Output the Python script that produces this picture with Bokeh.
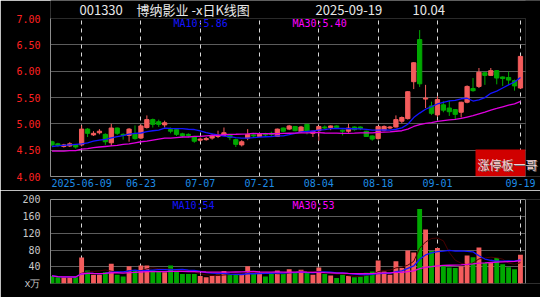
import pandas as pd
from bokeh.plotting import figure
from bokeh.layouts import column
from bokeh.models import (ColumnDataSource, Range1d, FixedTicker, Label,
                          BoxAnnotation, Span, PrintfTickFormatter)
from bokeh.embed import file_html
from bokeh.resources import INLINE

# ---------------- data ----------------
holidays = ["2025-06-02"]
dates = [d.strftime("%Y-%m-%d") for d in pd.bdate_range("2025-05-30", "2025-09-19")
         if d.strftime("%Y-%m-%d") not in holidays]

opens = [4.66, 4.62, 4.57, 4.58, 4.60, 4.60, 4.90, 4.79, 4.83, 4.80,
         4.64, 4.92, 4.80, 4.78, 4.81, 4.73, 4.93, 5.08, 5.04, 4.98,
         4.89, 4.89, 4.81, 4.80, 4.75, 4.69, 4.70, 4.73, 4.76, 4.78,
         4.79, 4.70, 4.60, 4.73, 4.79, 4.76, 4.80, 4.82, 4.76, 4.92,
         4.90, 4.95, 4.85, 4.99, 4.82, 4.87, 4.94, 4.93, 4.96, 4.88,
         4.86, 4.94, 4.94, 4.86, 4.77, 4.72, 4.88, 4.92, 4.94, 5.05,
         5.10, 5.80, 6.60, 5.47, 5.34, 5.17, 5.36, 5.30, 5.27, 5.22,
         5.41, 5.67, 5.71, 5.97, 5.92, 6.01, 5.89, 5.88, 5.82, 5.68]
highs = [4.68, 4.64, 4.62, 4.65, 4.61, 4.97, 4.92, 4.86, 4.90, 4.82,
         5.00, 4.93, 4.82, 4.92, 4.97, 4.99, 5.16, 5.10, 5.08, 5.06,
         4.93, 4.90, 4.83, 4.82, 4.77, 4.74, 4.75, 4.80, 4.87, 4.93,
         4.80, 4.72, 4.69, 4.90, 4.80, 4.81, 4.83, 4.85, 4.91, 4.93,
         4.98, 4.96, 4.96, 5.00, 4.87, 4.96, 4.97, 4.97, 4.97, 4.89,
         5.00, 4.95, 4.95, 4.87, 4.78, 4.96, 4.97, 4.96, 5.16, 5.14,
         5.62, 6.17, 6.78, 5.74, 5.42, 5.53, 5.43, 5.44, 5.28, 5.42,
         5.73, 5.87, 6.06, 5.98, 6.06, 6.02, 5.90, 5.99, 5.84, 6.29]
lows = [4.57, 4.56, 4.55, 4.56, 4.53, 4.57, 4.75, 4.77, 4.80, 4.60,
        4.58, 4.79, 4.70, 4.66, 4.70, 4.71, 4.91, 4.93, 4.94, 4.93,
        4.82, 4.77, 4.74, 4.74, 4.64, 4.66, 4.68, 4.70, 4.73, 4.77,
        4.69, 4.56, 4.57, 4.69, 4.74, 4.75, 4.76, 4.77, 4.75, 4.84,
        4.88, 4.86, 4.83, 4.80, 4.75, 4.68, 4.90, 4.88, 4.92, 4.78,
        4.83, 4.87, 4.88, 4.75, 4.68, 4.70, 4.86, 4.90, 4.93, 5.01,
        5.08, 5.66, 5.70, 5.30, 5.17, 5.13, 5.22, 5.15, 5.09, 5.12,
        5.39, 5.61, 5.68, 5.74, 5.91, 5.75, 5.72, 5.74, 5.63, 5.66]
closes = [4.60, 4.59, 4.60, 4.62, 4.56, 4.90, 4.82, 4.82, 4.86, 4.66,
          4.92, 4.82, 4.78, 4.90, 4.72, 4.96, 5.08, 4.99, 4.99, 5.02,
          4.86, 4.80, 4.77, 4.78, 4.67, 4.71, 4.72, 4.78, 4.77, 4.83,
          4.74, 4.61, 4.66, 4.80, 4.77, 4.80, 4.79, 4.80, 4.90, 4.86,
          4.96, 4.87, 4.94, 4.86, 4.86, 4.95, 4.92, 4.96, 4.93, 4.86,
          4.92, 4.89, 4.91, 4.76, 4.71, 4.95, 4.95, 4.94, 5.08, 5.12,
          5.61, 6.16, 5.76, 5.49, 5.20, 5.46, 5.26, 5.23, 5.18, 5.41,
          5.71, 5.63, 5.98, 5.92, 6.01, 5.87, 5.86, 5.83, 5.72, 6.28]
volumes = [18, 15, 15, 15, 15, 62, 31, 21, 21, 27,
           47, 21, 17, 41, 31, 43, 43, 31, 29, 27,
           43, 29, 23, 23, 23, 18, 15, 18, 21, 30,
           23, 23, 21, 41, 23, 23, 17, 23, 31, 23,
           34, 26, 33, 26, 21, 38, 23, 19, 13, 21,
           18, 15, 17, 26, 29, 55, 29, 21, 53, 37,
           79, 74, 178, 129, 78, 85, 41, 38, 37, 41,
           67, 63, 86, 49, 49, 61, 46, 39, 34, 69]

ma10_head = [4.57, 4.58, 4.59, 4.60, 4.61, 4.62, 4.64, 4.67, 4.69]
ma30_head = [4.48, 4.48, 4.48, 4.49, 4.49, 4.52, 4.53, 4.55, 4.56, 4.57,
             4.58, 4.59, 4.61, 4.62, 4.64, 4.66, 4.67, 4.69, 4.71, 4.73,
             4.73, 4.74, 4.75, 4.75, 4.76, 4.76, 4.77, 4.78, 4.78]

tick_dates = ["2025-06-09", "2025-06-23", "2025-07-07", "2025-07-21",
              "2025-08-04", "2025-08-18", "2025-09-01", "2025-09-19"]
tick_labels = ["2025-06-09", "06-23", "07-07", "07-21", "08-04", "08-18", "09-01", "09-19"]
price_ticks = [4.0, 4.5, 5.0, 5.5, 6.0, 6.5, 7.0]
vol_ticks = [0, 40, 80, 120, 160, 200]
vol_zero_label = "x万"

title_code = "001330"
title_name = "博纳影业 -x日K线图"
title_date = "2025-09-19"
title_value = "10.04"
price_ma_texts = ["MA10:5.86", "MA30:5.40"]
vol_ma_texts = ["MA10:54", "MA30:53"]
stamp_text = "涨停板一哥"

# ---------------- derived ----------------
UP, DOWN = "#f45c5c", "#00a800"
n = len(closes)
xs = list(range(n))
cs = pd.Series(closes)
ma10 = cs.rolling(10).mean()
ma10.iloc[:9] = ma10_head
ma30 = cs.rolling(30).mean()
ma30.iloc[:29] = ma30_head
vs = pd.Series(volumes, dtype=float)
vma5 = vs.rolling(5, min_periods=1).mean()
vma10 = vs.rolling(10, min_periods=1).mean()
vma30 = vs.rolling(30, min_periods=1).mean()

colors = [UP if c >= o else DOWN for o, c in zip(opens, closes)]
src = ColumnDataSource(dict(
    x=xs, open=opens, high=highs, low=lows, close=closes, vol=volumes,
    top=[max(o, c) for o, c in zip(opens, closes)],
    bottom=[min(o, c) for o, c in zip(opens, closes)],
    color=colors, ma10=ma10.tolist(), ma30=ma30.tolist(),
    vma5=vma5.tolist(), vma10=vma10.tolist(), vma30=vma30.tolist()))

tick_idx = [dates.index(d) for d in tick_dates]
MONO = "DejaVu Sans Mono"
BORDER = "#8c8c8c"

# pixel geometry: chart area 475 px wide (x 50..525), price 158 px tall (y 18..176)
X0, X1 = -0.25, n - 0.15
PX_X = 475 / (X1 - X0)
Y0, Y1 = price_ticks[0], price_ticks[-1]
PX_Y = 158 / (Y1 - Y0)
# frames reach the right canvas edge (490 px) so overhanging texts are not clipped
xr = Range1d(X0, X0 + 490 / PX_X)

# ---------------- price panel ----------------
p1 = figure(width=540, height=190, x_range=xr,
            y_range=Range1d(Y0, Y1 + 18 / PX_Y),
            output_backend="svg", toolbar_location=None,
            min_border_left=50, min_border_right=0, min_border_top=0, min_border_bottom=14,
            background_fill_color="black", border_fill_color="black",
            outline_line_color=None)

p1.xaxis.ticker = FixedTicker(ticks=tick_idx)
p1.xaxis.bounds = (X0, X1)
p1.xaxis.major_label_overrides = {i: l for i, l in zip(tick_idx, tick_labels)}
p1.xaxis.major_label_text_color = "#1e8ce6"
p1.xaxis.major_label_text_font = MONO
p1.xaxis.major_label_text_font_size = "10px"
p1.xaxis.major_label_standoff = 2
p1.xaxis.major_tick_out = 0
p1.xaxis.major_tick_in = 0
p1.xaxis.axis_line_color = BORDER
p1.xaxis.major_tick_line_color = None
p1.xaxis.minor_tick_line_color = None

p1.yaxis.ticker = FixedTicker(ticks=price_ticks)
p1.yaxis.bounds = (Y0, Y1)
p1.yaxis.formatter = PrintfTickFormatter(format="%.2f")
p1.yaxis.major_label_text_color = "#ff2020"
p1.yaxis.major_label_text_font = MONO
p1.yaxis.major_label_text_font_size = "10px"
p1.yaxis.major_label_standoff = 4
p1.yaxis.axis_line_color = BORDER
p1.yaxis.major_tick_line_color = None
p1.yaxis.minor_tick_line_color = None

p1.xgrid.ticker = FixedTicker(ticks=tick_idx)
p1.xgrid.grid_line_color = "#d8d8d8"
p1.xgrid.grid_line_dash = "4 4"
p1.ygrid.ticker = FixedTicker(ticks=price_ticks[1:-1])
p1.ygrid.grid_line_color = "#b8b8b8"
p1.ygrid.grid_line_dash = "1 1"

p1.segment(x0="x", y0="low", x1="x", y1="high", color="color", line_width=1, source=src)
p1.vbar(x="x", top="top", bottom="bottom", width=0.72, fill_color="color",
        line_color="color", source=src)
p1.line(x="x", y="ma10", color="#1414ff", line_width=1.3, source=src)
p1.line(x="x", y="ma30", color="#e000e0", line_width=1.3, source=src)

# black masks outside the chart area, the stamp box, then the chart border
p1.add_layout(BoxAnnotation(left=X1, fill_color="black", fill_alpha=1.0, line_color=None))
p1.add_layout(BoxAnnotation(bottom=Y1, fill_color="black", fill_alpha=1.0, line_color=None))
p1.add_layout(BoxAnnotation(left=X1 - 50 / PX_X, right=X1, top=Y0 + 27 / PX_Y,
                            fill_color="#d00000", fill_alpha=1.0, line_color=None))
p1.add_layout(BoxAnnotation(left=X0, right=X1, bottom=Y0, top=Y1, fill_color=None,
                            line_color=BORDER, line_width=1))

for x, txt in [(29, title_code), (86, title_name), (265, title_date), (362, title_value)]:
    p1.add_layout(Label(x=x, y=167, x_units="screen", y_units="screen", text=txt,
                        text_color="#e8e8e8", text_font_size="13px",
                        text_font="Noto Sans CJK SC", text_baseline="middle"))
for x, txt, col in [(123, price_ma_texts[0], "#1414ff"), (242, price_ma_texts[1], "#ff00ff")]:
    p1.add_layout(Label(x=x, y=153, x_units="screen", y_units="screen", text=txt,
                        text_color=col, text_font_size="10px", text_font=MONO,
                        text_baseline="middle"))
p1.add_layout(Label(x=428, y=11, x_units="screen", y_units="screen", text=stamp_text,
                    text_color="#707070", text_font_size="12px",
                    text_font="Noto Sans CJK SC", text_baseline="middle"))
p1.add_layout(Label(x=427, y=12, x_units="screen", y_units="screen", text=stamp_text,
                    text_color="#f2d4d4", text_font_size="12px",
                    text_font="Noto Sans CJK SC", text_baseline="middle"))

# ---------------- volume panel ----------------
p2 = figure(width=540, height=107, x_range=xr, y_range=Range1d(0, 201),
            x_axis_location="above",
            output_backend="svg", toolbar_location=None,
            min_border_left=50, min_border_right=0, min_border_top=9, min_border_bottom=14,
            background_fill_color="black", border_fill_color="black",
            outline_line_color=None)
p2.xaxis.ticker = FixedTicker(ticks=[])
p2.xaxis.bounds = (X0, X1)
p2.xaxis.major_label_standoff = 0
p2.xaxis.major_tick_out = 0
p2.xaxis.axis_line_color = BORDER
p2.xaxis.major_tick_line_color = None
p2.xaxis.minor_tick_line_color = None

p2.yaxis.ticker = FixedTicker(ticks=vol_ticks)
p2.yaxis.major_label_overrides = {0: vol_zero_label}
p2.yaxis.major_label_text_color = "#c8c8c8"
p2.yaxis.major_label_text_font = MONO
p2.yaxis.major_label_text_font_size = "10px"
p2.yaxis.major_label_standoff = 4
p2.yaxis.axis_line_color = BORDER
p2.yaxis.major_tick_line_color = None
p2.yaxis.minor_tick_line_color = None

p2.xgrid.ticker = FixedTicker(ticks=tick_idx)
p2.xgrid.grid_line_color = "#d8d8d8"
p2.xgrid.grid_line_dash = "4 4"
p2.ygrid.ticker = FixedTicker(ticks=vol_ticks[1:-1])
p2.ygrid.grid_line_color = "#b8b8b8"
p2.ygrid.grid_line_dash = "1 1"

p2.vbar(x="x", top="vol", bottom=0, width=0.82, fill_color="color", line_color=None, source=src)
p2.line(x="x", y="vma5", color="#4a0000", line_width=1, source=src)
p2.line(x="x", y="vma10", color="#1414ff", line_width=1.3, source=src)
p2.line(x="x", y="vma30", color="#e000e0", line_width=1.3, source=src)
p2.add_layout(BoxAnnotation(left=X1, fill_color="black", fill_alpha=1.0, line_color=None))
p2.add_layout(Span(location=X1, dimension="height", line_color=BORDER, line_width=1))
for x, txt, col in [(122, vol_ma_texts[0], "#1414ff"), (242, vol_ma_texts[1], "#ff00ff")]:
    p2.add_layout(Label(x=x, y=78, x_units="screen", y_units="screen", text=txt,
                        text_color=col, text_font_size="10px", text_font=MONO,
                        text_baseline="middle"))

layout = column(p1, p2, spacing=0)
open("out.html", "w").write(file_html(layout, INLINE))
